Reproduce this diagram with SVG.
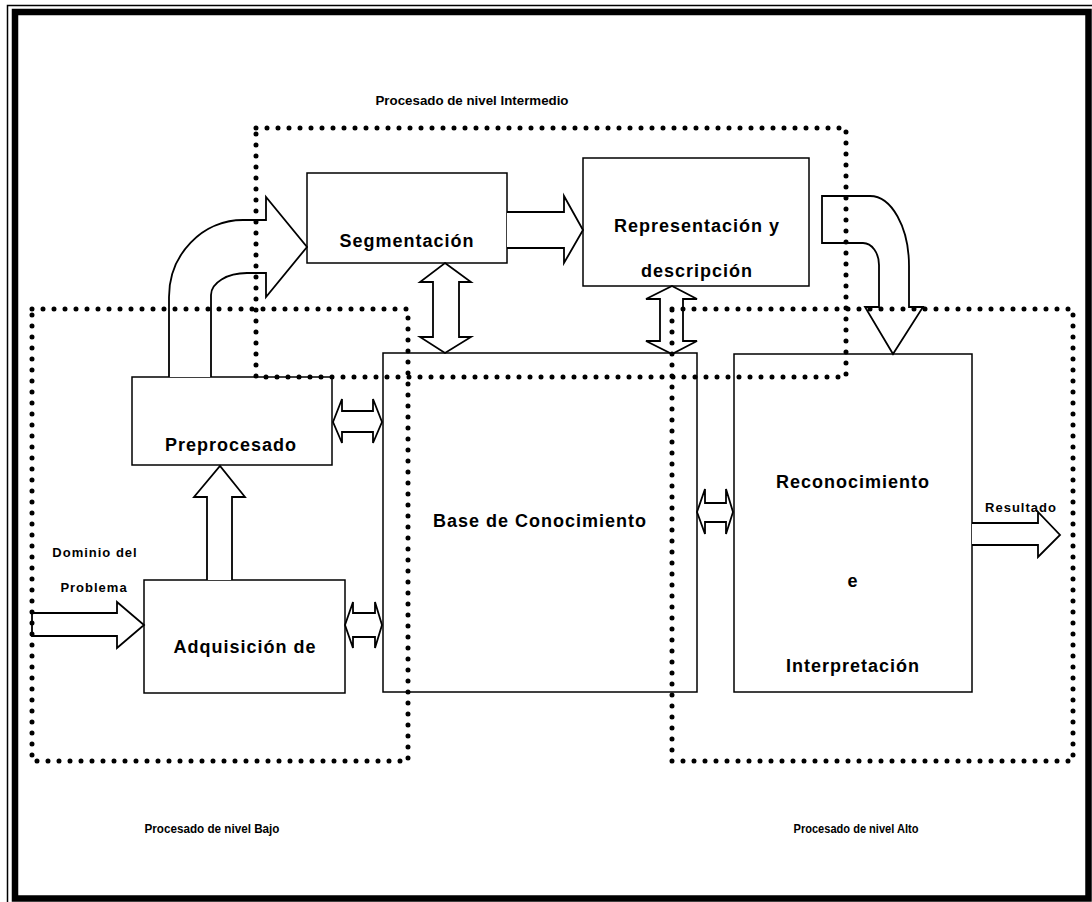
<svg xmlns="http://www.w3.org/2000/svg" width="1092" height="902" viewBox="0 0 1092 902">
  <style>
    .box { fill: none; stroke: #000; stroke-width: 1.5; }
    .arr { fill: #fff; stroke: #000; stroke-width: 1.8; stroke-linejoin: miter; }
    .dots { fill: none; stroke: #000; stroke-width: 5; stroke-linecap: round; stroke-dasharray: 0 11; }
    .lbl { font-family: "Liberation Sans", Arial, sans-serif; font-weight: bold; fill: #000; text-anchor: middle; }
    .big { font-size: 18px; letter-spacing: 1px; }
    .small { font-size: 13px; letter-spacing: 1px; }
    .tiny { font-size: 13px; }
  </style>
  <defs>
    <clipPath id="repClip"><rect x="583" y="158" width="226" height="125"/></clipPath>
  </defs>

  <rect width="1092" height="902" fill="#fff"/>

  <!-- page frame -->
  <g id="frame">
    <rect x="7.5" y="5.5" width="1090" height="900" fill="none" stroke="#000" stroke-width="1.5"/>
    <rect x="15" y="12" width="1073.5" height="886.5" fill="none" stroke="#000" stroke-width="6.5"/>
  </g>

  <!-- nodes -->
  <g id="segmentacion">
    <rect class="box" x="307" y="173" width="200" height="90"/>
    <text class="lbl big" x="407" y="247">Segmentación</text>
  </g>
  <g id="representacion">
    <rect class="box" x="583" y="158" width="226" height="128"/>
    <text class="lbl big" x="697" y="232">Representación y</text>
    <text class="lbl big" x="697" y="277" clip-path="url(#repClip)">descripción</text>
  </g>
  <g id="preprocesado">
    <rect class="box" x="132" y="377" width="200" height="88"/>
    <text class="lbl big" x="231" y="451">Preprocesado</text>
  </g>
  <g id="adquisicion">
    <rect class="box" x="144" y="580" width="201" height="113"/>
    <text class="lbl big" x="245" y="653">Adquisición de</text>
  </g>
  <g id="base">
    <rect class="box" x="383" y="353" width="314" height="339"/>
    <text class="lbl big" x="540" y="527">Base de Conocimiento</text>
  </g>
  <g id="reconocimiento">
    <rect class="box" x="734" y="354" width="238" height="338"/>
    <text class="lbl big" x="853" y="488">Reconocimiento</text>
    <text class="lbl big" x="853" y="587">e</text>
    <text class="lbl big" x="853" y="672">Interpretación</text>
  </g>

  <!-- connectors -->
  <g id="connectors">
    <!-- Preprocesado -> Segmentacion (curved) -->
    <path class="arr" d="M169,377 L169,297 A74,77 0 0 1 243,220 L266,220 L266,197 L307,247 L266,297 L266,273 L247,273 A36,22 0 0 0 211,295 L211,377"/>
    <!-- Segmentacion -> Representacion -->
    <path class="arr" d="M507,212 L564,212 L564,196 L583,230 L564,263 L564,248 L507,248"/>
    <!-- Segmentacion <-> Base -->
    <path class="arr" d="M445,263 L471,282 L459,282 L459,337 L471,337 L445,353 L420,337 L433,337 L433,282 L420,282 Z"/>
    <!-- Representacion <-> Base -->
    <path class="arr" d="M672,286 L697,299 L683,299 L683,341 L697,341 L672,354 L646,341 L660,341 L660,299 L646,299 Z"/>
    <!-- Representacion -> Reconocimiento (curved) -->
    <path class="arr" d="M822,196 L870,196 A39,70 0 0 1 909,266 L909,307 L923,307 L893,354 L865,307 L879,307 L879,265 A16,22 0 0 0 863,243 L822,243 Z"/>
    <!-- Preprocesado <-> Base -->
    <path class="arr" d="M333,422 L342,399 L342,411 L373,411 L373,399 L382,422 L373,443 L373,432 L342,432 L342,443 Z"/>
    <!-- Adquisicion <-> Base -->
    <path class="arr" d="M345,625 L353,602 L353,613 L375,613 L375,602 L382,625 L375,648 L375,637 L353,637 L353,648 Z"/>
    <!-- Base <-> Reconocimiento -->
    <path class="arr" d="M697,512 L705,489 L705,503 L726,503 L726,489 L733,512 L726,534 L726,522 L705,522 L705,534 Z"/>
    <!-- Dominio del Problema -> Adquisicion -->
    <path class="arr" d="M32,613 L117,613 L117,602 L144,625 L117,648 L117,636 L32,636 Z"/>
    <!-- Adquisicion -> Preprocesado -->
    <path class="arr" d="M207,580 L207,497 L194,497 L220,466 L245,497 L232,497 L232,580"/>
    <!-- Reconocimiento -> Resultado -->
    <path class="arr" d="M972,523 L1038,523 L1038,512 L1060,535 L1038,557 L1038,545 L972,545"/>
  </g>

  <!-- processing-level regions, dotted outlines drawn over everything -->
  <g id="regions">
    <rect class="dots" x="256" y="128" width="590" height="249"/>
    <rect class="dots" x="32" y="309" width="376" height="452"/>
    <rect class="dots" x="672" y="309" width="401" height="452"/>
  </g>

  <!-- free labels -->
  <g id="labels">
    <text class="lbl tiny" x="472" y="105" textLength="193" lengthAdjust="spacingAndGlyphs">Procesado de nivel Intermedio</text>
    <text class="lbl small" x="95" y="557">Dominio del</text>
    <text class="lbl small" x="94" y="592">Problema</text>
    <text class="lbl small" x="1021" y="512">Resultado</text>
    <text class="lbl tiny" x="212" y="833" textLength="135" lengthAdjust="spacingAndGlyphs">Procesado de nivel Bajo</text>
    <text class="lbl tiny" x="856" y="833" textLength="125" lengthAdjust="spacingAndGlyphs">Procesado de nivel Alto</text>
  </g>
</svg>
